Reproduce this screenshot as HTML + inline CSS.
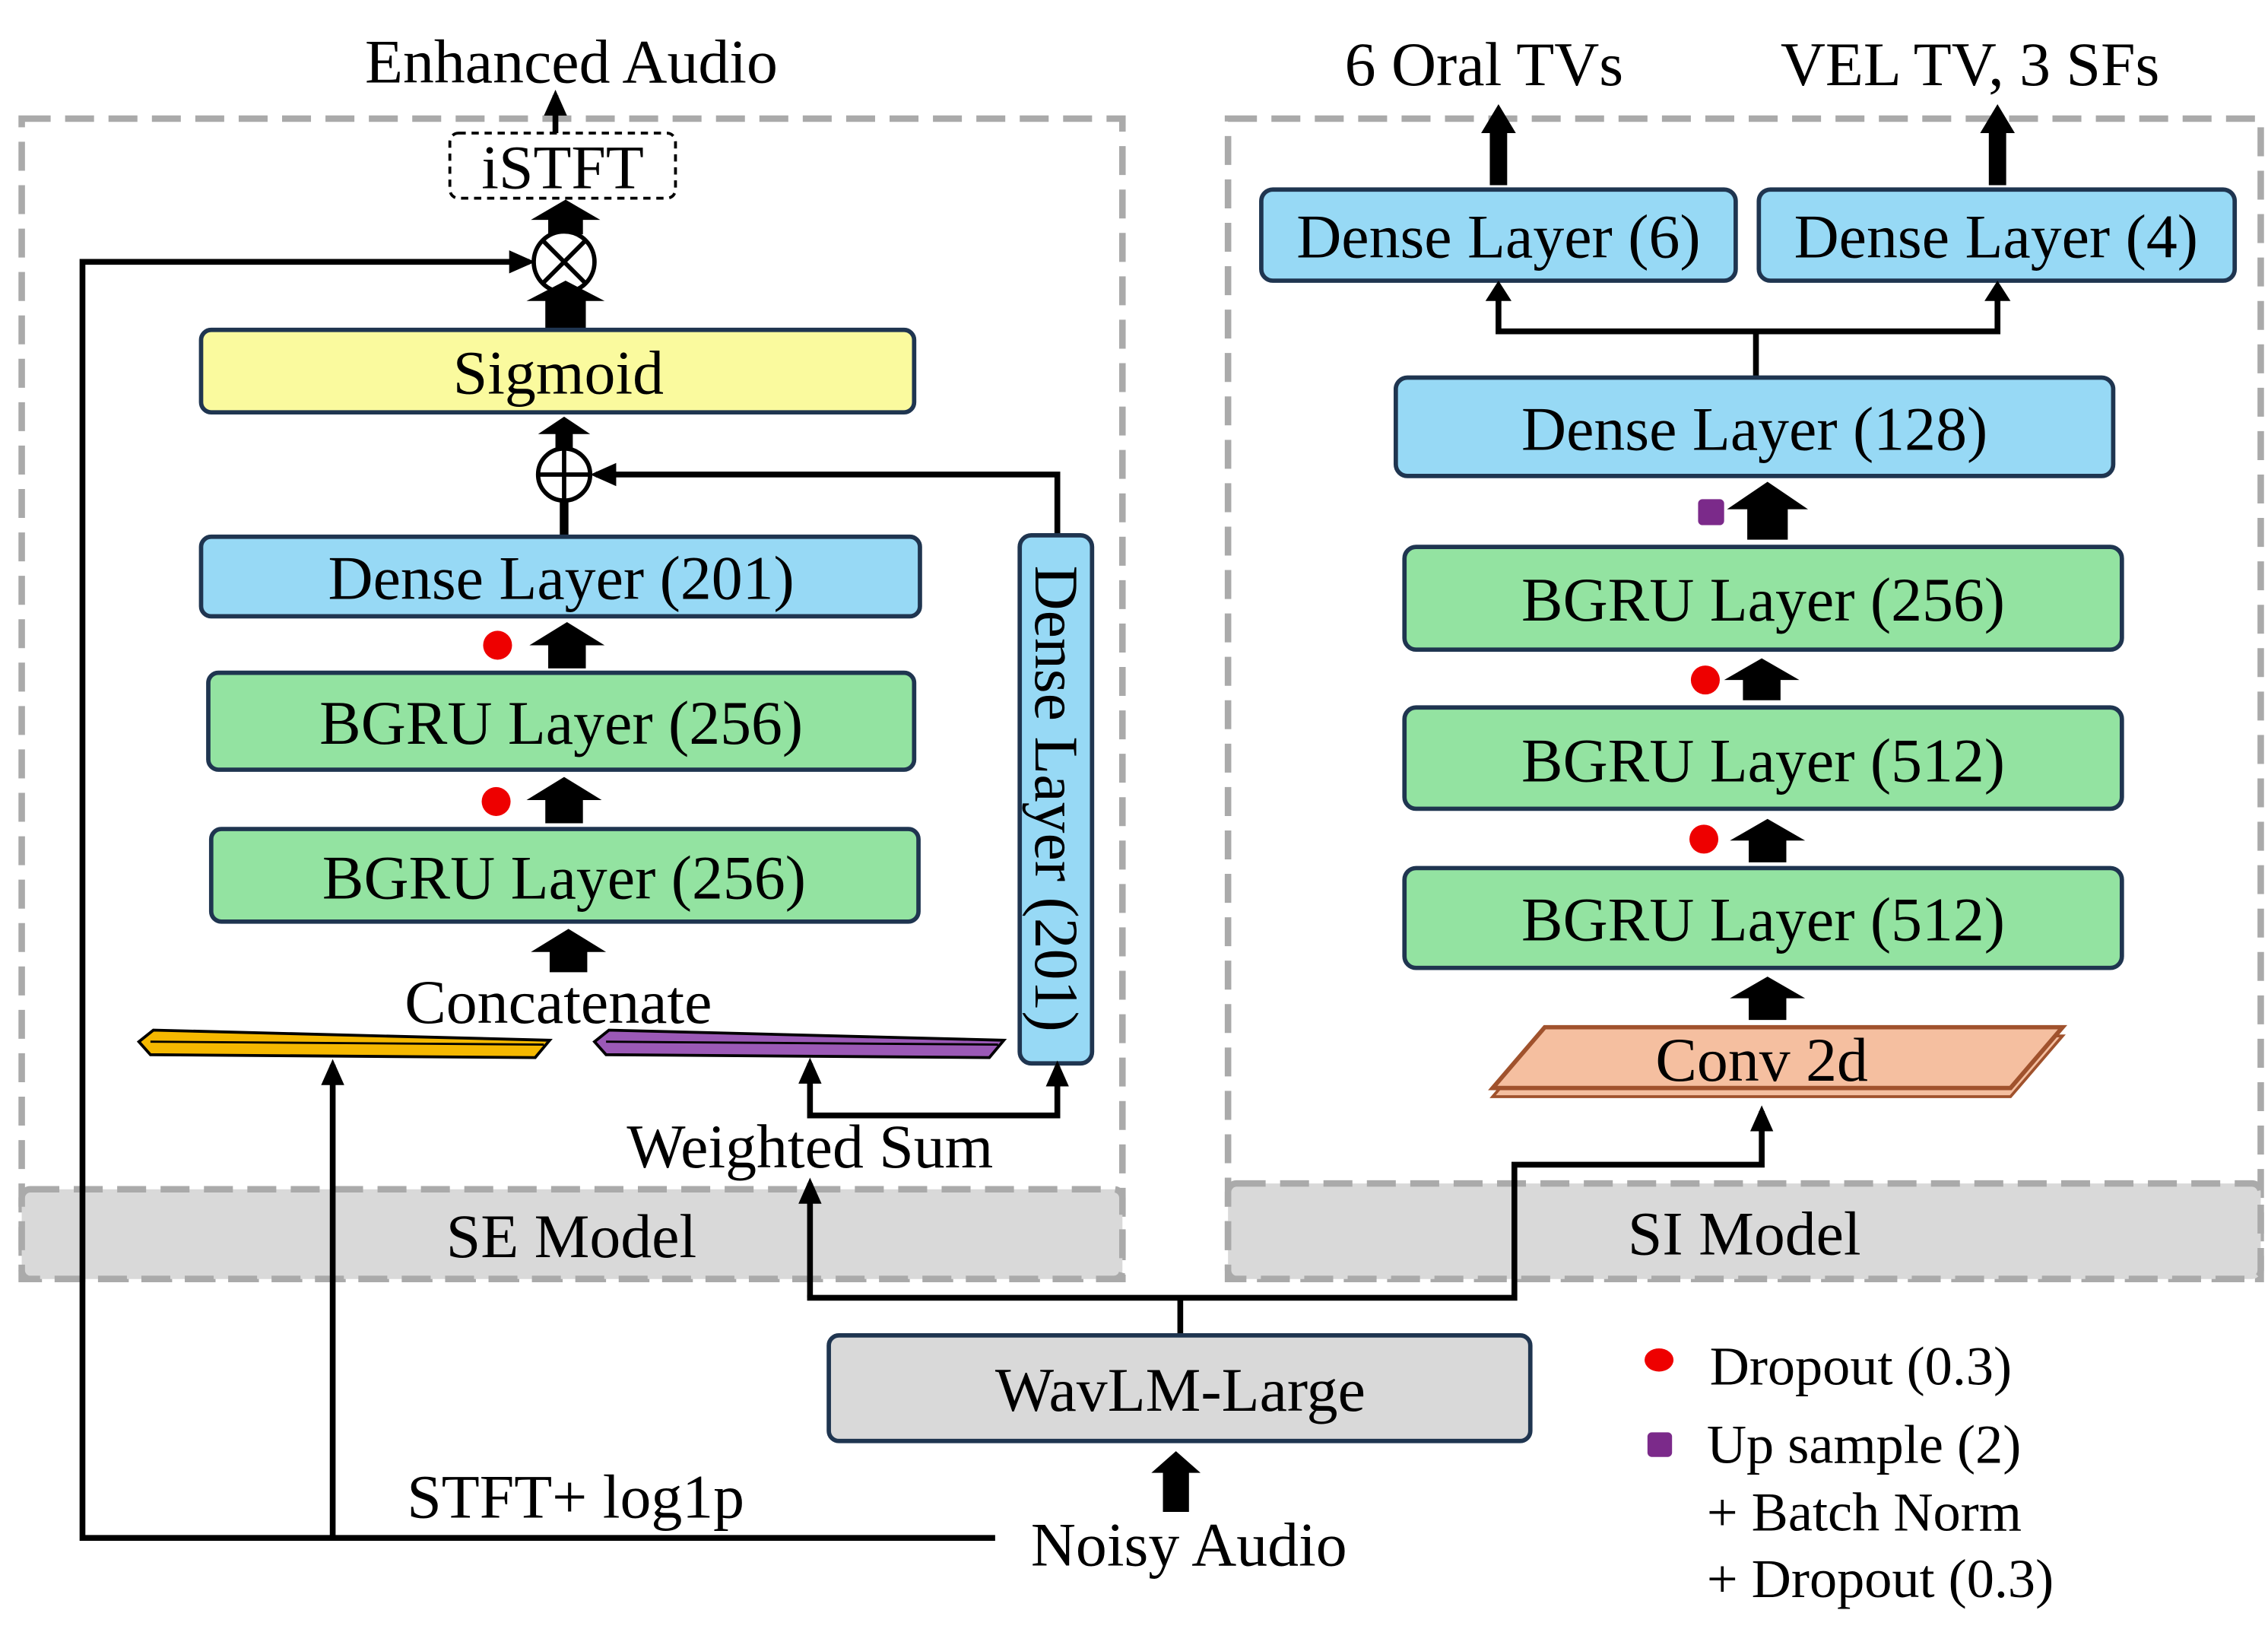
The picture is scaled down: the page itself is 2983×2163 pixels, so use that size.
<!DOCTYPE html>
<html><head><meta charset="utf-8"><style>
html,body{margin:0;padding:0;background:#fff;}
svg{display:block;}
text{font-family:"Liberation Serif",serif;fill:#000;}
</style></head><body>
<svg width="2983" height="2163" viewBox="0 0 1568 1137" xmlns="http://www.w3.org/2000/svg">
<defs>
<marker id="ahs" markerWidth="18" markerHeight="18" refX="14" refY="9" orient="auto" markerUnits="userSpaceOnUse" viewBox="0 0 18 18"><path d="M0,1 L18,9 L0,17 z" fill="#000"/></marker>
</defs>
<rect x="15" y="82" width="761" height="802" fill="none" stroke="#aaa" stroke-width="4.5" stroke-dasharray="20,10"/>
<rect x="15" y="822" width="761" height="62" rx="6" fill="#d9d9d9" stroke="#aaa" stroke-width="4.5" stroke-dasharray="20,10"/>
<text x="395" y="869" font-size="43" text-anchor="middle">SE Model</text>
<rect x="849" y="82" width="714" height="802" fill="none" stroke="#aaa" stroke-width="4.5" stroke-dasharray="20,10"/>
<rect x="849" y="818" width="714" height="66" rx="6" fill="#d9d9d9" stroke="#aaa" stroke-width="4.5" stroke-dasharray="20,10"/>
<text x="1206" y="867" font-size="43" text-anchor="middle">SI Model</text>

<text x="395" y="57" font-size="43" text-anchor="middle">Enhanced Audio</text>
<line x1="384" y1="92" x2="384" y2="66" stroke="#000" stroke-width="4" marker-end="url(#ahs)"/>
<rect x="311" y="92" width="156" height="45" rx="6" fill="#fff" stroke="#000" stroke-width="2" stroke-dasharray="5,4"/>
<text x="389" y="130" font-size="43" text-anchor="middle">iSTFT</text>
<polygon points="391,138 415,152 403,152 403,162 379,162 379,152 367,152" fill="#000"/>
<circle cx="390" cy="181" r="21" fill="#fff" stroke="#000" stroke-width="3"/>
<line x1="376" y1="167" x2="404" y2="195" stroke="#000" stroke-width="3"/>
<line x1="404" y1="167" x2="376" y2="195" stroke="#000" stroke-width="3"/>
<polygon points="391,194 418,208 405,208 405,227 377,227 377,208 364,208" fill="#000"/>
<rect x="139" y="228" width="493" height="57" rx="7" fill="#fafa9e" stroke="#1f3550" stroke-width="3"/>
<text x="386" y="272" font-size="43" text-anchor="middle">Sigmoid</text>
<polygon points="390,288 408,300 396,300 396,312 384,312 384,300 372,300" fill="#000"/>
<circle cx="390" cy="328" r="18" fill="#fff" stroke="#000" stroke-width="3"/>
<line x1="372" y1="328" x2="408" y2="328" stroke="#000" stroke-width="3"/>
<line x1="390" y1="310" x2="390" y2="346" stroke="#000" stroke-width="3"/>
<line x1="390" y1="346" x2="390" y2="371" stroke="#000" stroke-width="6"/>
<polyline points="731,370 731,328 412,328" fill="none" stroke="#000" stroke-width="4" marker-end="url(#ahs)"/>
<rect x="139" y="371" width="497" height="55" rx="7" fill="#97d9f5" stroke="#1f3550" stroke-width="3"/>
<text x="388" y="414" font-size="43" text-anchor="middle">Dense Layer (201)</text>
<circle cx="344" cy="446" r="10" fill="#e00"/>
<polygon points="392,430 418,446 405,446 405,462 379,462 379,446 366,446" fill="#000"/>
<rect x="144" y="465" width="488" height="67" rx="7" fill="#93e3a1" stroke="#1f3550" stroke-width="3"/>
<text x="388" y="514" font-size="43" text-anchor="middle">BGRU Layer (256)</text>
<circle cx="343" cy="554" r="10" fill="#e00"/>
<polygon points="390,537 416,553 403,553 403,569 377,569 377,553 364,553" fill="#000"/>
<rect x="146" y="573" width="489" height="64" rx="7" fill="#93e3a1" stroke="#1f3550" stroke-width="3"/>
<text x="390" y="621" font-size="43" text-anchor="middle">BGRU Layer (256)</text>
<polygon points="393,642 419,658 406,658 406,672 380,672 380,658 367,658" fill="#000"/>
<text x="386" y="707" font-size="43" text-anchor="middle">Concatenate</text>
<polygon points="96,720 106,712 380,719 370,731 104,729" fill="#f5b800" stroke="#000" stroke-width="2"/>
<line x1="104" y1="720" x2="376" y2="722" stroke="#000" stroke-width="1.5"/>
<polygon points="411,720 421,712 694,719 684,731 419,729" fill="#9b59b6" stroke="#000" stroke-width="2"/>
<line x1="419" y1="720" x2="690" y2="722" stroke="#000" stroke-width="1.5"/>
<rect x="705" y="370" width="50" height="365" rx="8" fill="#97d9f5" stroke="#1f3550" stroke-width="3"/>
<text transform="translate(716,552) rotate(90)" font-size="43" text-anchor="middle">Dense Layer (201)</text>
<polyline points="560,737 560,771 731,771 731,737" fill="none" stroke="#000" stroke-width="4" marker-end="url(#ahs)"/>
<line x1="560" y1="745" x2="560" y2="735" stroke="#000" stroke-width="4" marker-end="url(#ahs)"/>
<text x="560" y="807" font-size="43" text-anchor="middle">Weighted Sum</text>

<polyline points="688,1063 57,1063 57,181 366,181" fill="none" stroke="#000" stroke-width="4" marker-end="url(#ahs)"/>
<line x1="230" y1="1063" x2="230" y2="736" stroke="#000" stroke-width="4" marker-end="url(#ahs)"/>
<text x="398" y="1049" font-size="43" text-anchor="middle">STFT+ log1p</text>
<line x1="560" y1="897" x2="560" y2="818" stroke="#000" stroke-width="4" marker-end="url(#ahs)"/>
<polyline points="558,897 1047,897 1047,805 1218,805 1218,768" fill="none" stroke="#000" stroke-width="4" marker-end="url(#ahs)"/>
<line x1="816" y1="897" x2="816" y2="923" stroke="#000" stroke-width="4"/>
<rect x="573" y="923" width="485" height="73" rx="7" fill="#d9d9d9" stroke="#1f3550" stroke-width="3"/>
<text x="816" y="975" font-size="43" text-anchor="middle">WavLM-Large</text>
<polygon points="813,1003 830,1018 822,1018 822,1045 804,1045 804,1018 796,1018" fill="#000"/>
<text x="822" y="1082" font-size="43" text-anchor="middle">Noisy Audio</text>

<text x="1026" y="59" font-size="43" text-anchor="middle">6 Oral TVs</text>
<text x="1362" y="59" font-size="43" text-anchor="middle">VEL TV, 3 SFs</text>
<polygon points="1036,72 1048,92 1042,92 1042,128 1030,128 1030,92 1024,92" fill="#000"/>
<polygon points="1381,72 1393,92 1387,92 1387,128 1375,128 1375,92 1369,92" fill="#000"/>
<rect x="872" y="131" width="328" height="63" rx="8" fill="#97d9f5" stroke="#1f3550" stroke-width="3"/>
<text x="1036" y="178" font-size="43" text-anchor="middle">Dense Layer (6)</text>
<rect x="1216" y="131" width="329" height="63" rx="8" fill="#97d9f5" stroke="#1f3550" stroke-width="3"/>
<text x="1380" y="178" font-size="43" text-anchor="middle">Dense Layer (4)</text>
<line x1="1214" y1="261" x2="1214" y2="229" stroke="#000" stroke-width="4"/>
<polyline points="1036,198 1036,229 1381,229 1381,198" fill="none" stroke="#000" stroke-width="4"/>
<polygon points="1036,194 1045,208 1027,208" fill="#000"/>
<polygon points="1381,194 1390,208 1372,208" fill="#000"/>
<rect x="965" y="261" width="496" height="68" rx="8" fill="#97d9f5" stroke="#1f3550" stroke-width="3"/>
<text x="1213" y="311" font-size="43" text-anchor="middle">Dense Layer (128)</text>
<rect x="1174" y="345" width="18" height="18" rx="3" fill="#7b2a8a"/>
<polygon points="1222,333 1250,352 1236,352 1236,373 1208,373 1208,352 1194,352" fill="#000"/>
<rect x="971" y="378" width="496" height="71" rx="8" fill="#93e3a1" stroke="#1f3550" stroke-width="3"/>
<text x="1219" y="429" font-size="43" text-anchor="middle">BGRU Layer (256)</text>
<circle cx="1179" cy="470" r="10" fill="#e00"/>
<polygon points="1218,455 1244,470 1231,470 1231,484 1205,484 1205,470 1192,470" fill="#000"/>
<rect x="971" y="489" width="496" height="70" rx="8" fill="#93e3a1" stroke="#1f3550" stroke-width="3"/>
<text x="1219" y="540" font-size="43" text-anchor="middle">BGRU Layer (512)</text>
<circle cx="1178" cy="580" r="10" fill="#e00"/>
<polygon points="1222,566 1248,581 1235,581 1235,596 1209,596 1209,581 1196,581" fill="#000"/>
<rect x="971" y="600" width="496" height="69" rx="8" fill="#93e3a1" stroke="#1f3550" stroke-width="3"/>
<text x="1219" y="650" font-size="43" text-anchor="middle">BGRU Layer (512)</text>
<polygon points="1222,675 1248,690 1235,690 1235,705 1209,705 1209,690 1196,690" fill="#000"/>
<polygon points="1032,758 1068,716 1426,716 1390,758" fill="#f5bfa0" stroke="#a0522d" stroke-width="2"/>
<polygon points="1032,752 1068,710 1426,710 1390,752" fill="#f5bfa0" stroke="#a0522d" stroke-width="3"/>
<text x="1218" y="747" font-size="43" text-anchor="middle">Conv 2d</text>

<ellipse cx="1147" cy="940" rx="10" ry="8" fill="#e00"/>
<text x="1182" y="957" font-size="38">Dropout (0.3)</text>
<rect x="1139" y="990" width="17" height="17" rx="3" fill="#7b2a8a"/>
<text x="1180" y="1011" font-size="38">Up sample (2)</text>
<text x="1180" y="1058" font-size="38">+ Batch Norm</text>
<text x="1180" y="1104" font-size="38">+ Dropout (0.3)</text>
</svg>
</body></html>
